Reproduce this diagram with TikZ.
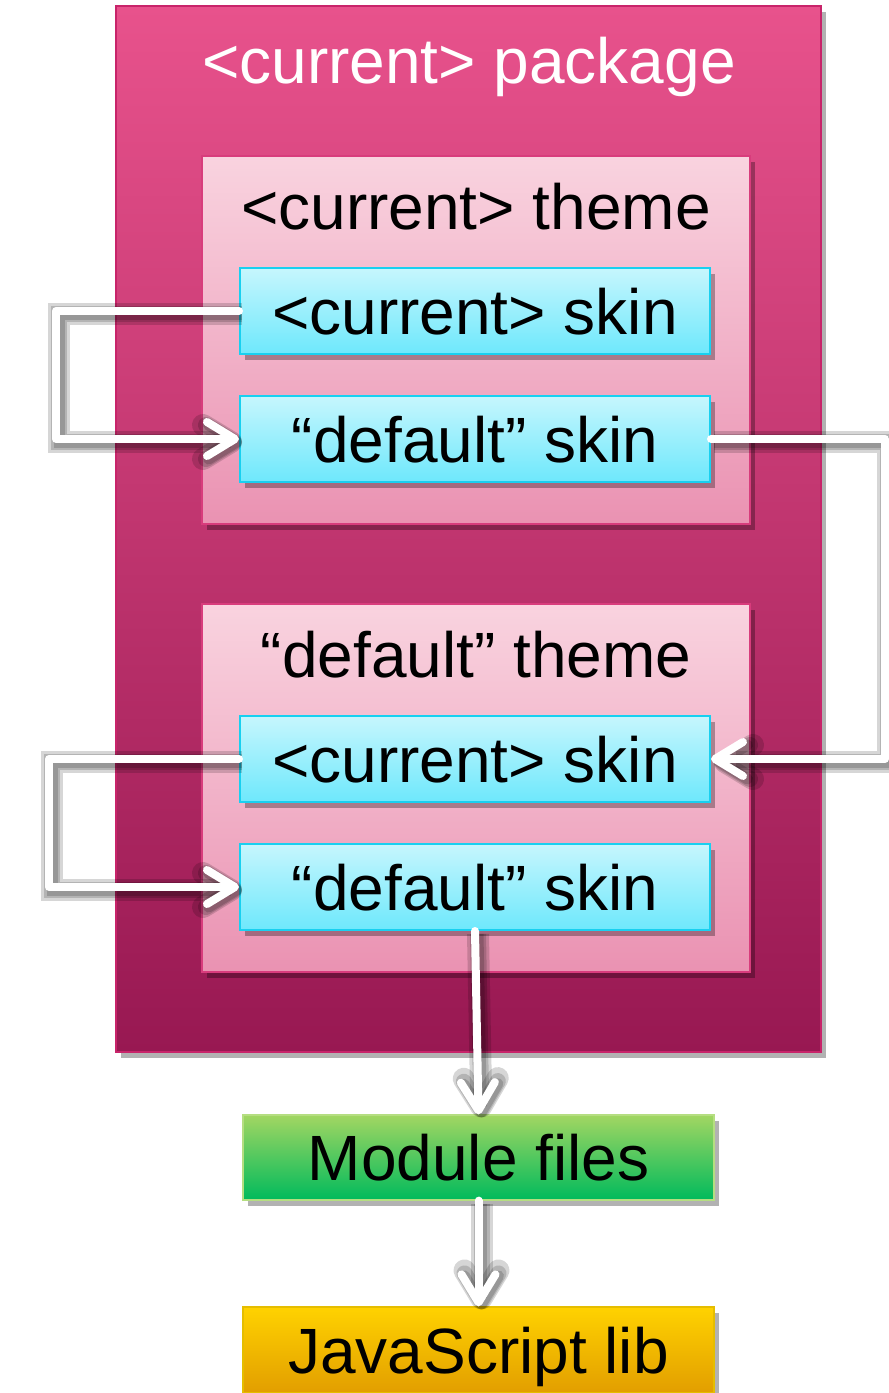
\documentclass[tikz,border=0pt]{standalone}
\usepackage{fontspec}
\setmainfont{Liberation Sans}
\usetikzlibrary{positioning, arrows.meta, shadows}

\definecolor{pkgtop}{HTML}{E8528C}
\definecolor{pkgbot}{HTML}{981852}
\definecolor{pkgline}{HTML}{C8246A}
\definecolor{thmtop}{HTML}{F9D3DF}
\definecolor{thmbot}{HTML}{EA92B2}
\definecolor{thmline}{HTML}{D83C7C}
\definecolor{skintop}{HTML}{C6F6FD}
\definecolor{skinbot}{HTML}{6EE8FC}
\definecolor{skinline}{HTML}{18D0F0}
\definecolor{modtop}{HTML}{A2D662}
\definecolor{modbot}{HTML}{00BA5C}
\definecolor{jstop}{HTML}{FFD200}
\definecolor{jsbot}{HTML}{E29E00}

\tikzset{
  boxshadow/.style={drop shadow={shadow xshift=2.5pt, shadow yshift=-3pt, fill=black, opacity=0.3}},
  bigtxt/.style={font=\fontsize{32pt}{38pt}\selectfont},
  pkgbox/.style={rectangle, draw=pkgline, line width=0.6pt, top color=pkgtop, bottom color=pkgbot, boxshadow,
    minimum width=352.5pt, minimum height=523pt},
  thmbox/.style={rectangle, draw=thmline, line width=0.6pt, top color=thmtop, bottom color=thmbot, boxshadow,
    minimum width=274pt, minimum height=184pt},
  skinbox/.style={rectangle, draw=skinline, line width=1pt, top color=skintop, bottom color=skinbot, boxshadow,
    minimum width=235pt, minimum height=43pt, bigtxt, text height=23pt, text depth=0pt, inner sep=0pt},
  modbox/.style={rectangle, draw=modtop!80!white, line width=0.6pt, top color=modtop, middle color=modtop!92!modbot, bottom color=modbot, boxshadow,
    minimum width=235.5pt, minimum height=42.5pt, bigtxt, text height=23pt, text depth=0pt, inner sep=0pt},
  jsbox/.style={rectangle, draw=jstop!90!black, line width=0.6pt, top color=jstop, bottom color=jsbot, boxshadow,
    minimum width=235.5pt, minimum height=43pt, bigtxt, text height=23pt, text depth=0pt, inner sep=0pt},
  ttl/.style={bigtxt, anchor=base, inner sep=0pt},
  halo/.style={draw=black, line width=#1, opacity=0.16, transform canvas={shift={(1.5pt,-1.5pt)}}},
  flow/.style={draw=white, line width=4pt, line cap=round, line join=round,
    -{Straight Barb[length=14pt, width=17pt, line cap=round, line join=round]},
    preaction={halo=11pt}, preaction={halo=8pt}, preaction={halo=5.5pt}},
}

\begin{document}
\begin{tikzpicture}[x=0.5pt, y=-0.5pt]
  \useasboundingbox (0,0) rectangle (889,1393);

  % package and themes
  \node[pkgbox] (pkg) at (468.5,529) {};
  \node[ttl, text=white] (pkgtitle) at (469,83) {<current> package};

  \node[thmbox] (thmA) at (476,340) {};
  \node[ttl] (thmAtitle) at (476,229) {<current> theme};
  \node[skinbox] (cskinA) at (475,311) {<current> skin};
  \node[skinbox] (dskinA) at (475,439) {“default” skin};

  \node[thmbox] (thmB) at (476,788) {};
  \node[ttl] (thmBtitle) at (476,677) {“default” theme};
  \node[skinbox] (cskinB) at (475,759) {<current> skin};
  \node[skinbox] (dskinB) at (475,887) {“default” skin};

  % outside the package
  \node[modbox] (module) at (478.5,1157.5) {Module files};
  \node[jsbox] (jslib) at (478.5,1350) {JavaScript lib};

  % fallback arrows
  \draw[flow] (cskinA.west) -- ++(-183,0) |- (dskinA.west);
  \draw[flow] (dskinA.east) -- ++(174,0) |- (cskinB.east);
  \draw[flow] (cskinB.west) -- ++(-190,0) |- (dskinB.west);
  \draw[flow] (dskinB.south) -- (module.north);
  \draw[flow] (module.south) -- (jslib.north);
\end{tikzpicture}
\end{document}
